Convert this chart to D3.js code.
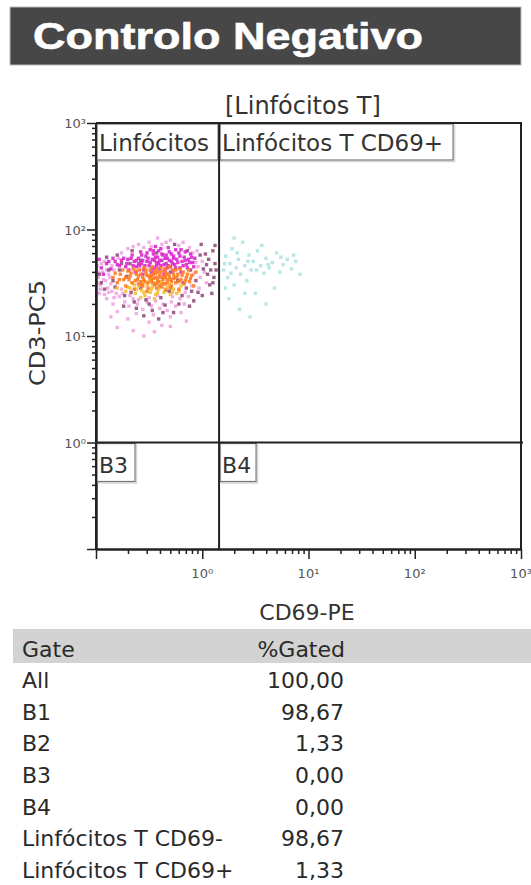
<!DOCTYPE html>
<html>
<head>
<meta charset="utf-8">
<script src="https://cdn.jsdelivr.net/npm/d3@7"></script>
<style>
  html, body { margin: 0; padding: 0; background: #fff; }
  svg { display: block; }
</style>
</head>
<body>
<svg id="chart" width="531" height="885"></svg>
<script>
// ---------- DATA ----------
const titleText = "Controlo Negativo";
const xLabel = "CD69-PE";
const yLabel = "CD3-PC5";
const parentGate = "[Linfócitos T]";
const axisDomain = [0.1, 1000];
const decadeTicks = [0.1, 1, 10, 100, 1000];
const decadeLabels = ["", "10⁰", "10¹", "10²", "10³"];
const gateX = 1.44;   // CD69 threshold
const gateY = 1;      // CD3 threshold
const regionLabels = ["Linfócitos", "Linfócitos T CD69+", "B3", "B4"];

const tableHeader = ["Gate", "%Gated"];
const gateNames = ["All", "B1", "B2", "B3", "B4", "Linfócitos T CD69-", "Linfócitos T CD69+"];
const gatePct = [100.00, 98.67, 1.33, 0.00, 0.00, 98.67, 1.33];

// events, log10 (CD69, CD3)
const pinkEvents = [[-0.98,1.55],[-0.96,1.48],[-0.94,1.60],[-0.91,1.52],[-0.89,1.45],[-0.88,1.58],[-0.86,1.49],[-0.85,1.42],[-0.83,1.62],[-0.81,1.40],[-0.79,1.73],[-0.76,1.44],[-0.97,1.40],[-0.92,1.70],[-0.99,1.66],
 [-0.9,1.35],[-0.84,1.30],[-0.78,1.37],[-0.73,1.32],[-0.69,1.28],[-0.65,1.35],[-0.61,1.30],[-0.56,1.25],[-0.52,1.32],[-0.48,1.28],[-0.44,1.33],[-0.4,1.26],[-0.37,1.30],[-0.33,1.24],[-0.29,1.32],[-0.25,1.28],[-0.21,1.35],[-0.17,1.30],[-0.13,1.37],[-0.62,1.21],[-0.46,1.20],[-0.3,1.18],[-0.7,1.16],[-0.5,1.13],[-0.38,1.10],[-0.2,1.22],[-0.8,1.23],[-0.86,1.18],
 [-0.7,1.82],[-0.6,1.86],[-0.5,1.88],[-0.38,1.86],[-0.3,1.90],[-0.22,1.85],[-0.12,1.83],[-0.05,1.80],[-0.42,1.92],[-0.55,1.83],[-0.18,1.88],
 [-0.04,1.65],[-0.02,1.55],[0.0,1.70],[0.02,1.60],[-0.03,1.45],[0.04,1.50],
 [-0.8,1.08],[-0.65,1.05],[-0.45,1.04],[-0.3,1.09],[-0.15,1.14],[-0.55,1.0],
 [-0.98,1.60],[-0.95,1.68],[-0.93,1.53],[-0.9,1.62],[-0.87,1.55],[-0.85,1.66],[-0.99,1.50],[-0.96,1.44],[-0.92,1.39],[-0.88,1.41],[-0.83,1.36],[-0.75,1.40],[-0.68,1.38],[-0.6,1.34],[-0.5,1.36],[-0.42,1.38],[-0.28,1.37],[-0.16,1.41],[-0.1,1.47],[-0.08,1.58],[-0.06,1.69],[-0.09,1.78],[-0.65,1.84],[-0.48,1.84],[-0.34,1.88],[-0.76,1.78]];
const purpleEvents = [[0.06,1.72],[0.08,1.62],[0.1,1.80],[0.11,1.55],[0.12,1.68],[0.07,1.48],[0.03,1.77],[-0.01,1.86],[0.09,1.40],[0.05,1.58],[0.12,1.85],[0.01,1.63],
 [-0.95,1.50],[-0.88,1.62],[-0.82,1.46],[-0.76,1.68],[-0.71,1.56],[-0.67,1.41],[-0.62,1.26],[-0.58,1.71],[-0.53,1.34],[-0.47,1.24],[-0.43,1.78],[-0.39,1.36],[-0.35,1.29],[-0.31,1.42],[-0.27,1.22],[-0.23,1.52],[-0.19,1.38],[-0.15,1.45],[-0.11,1.62],[-0.08,1.33],[-0.14,1.80],[-0.26,1.86],[-0.66,1.80],[-0.8,1.76],[-0.92,1.44],[-0.74,1.28],[-0.55,1.19],[-0.41,1.16],[-0.06,1.52],[-0.02,1.76],[-0.10,1.42],[0.0,1.38],
 [-0.97,1.58],[-0.9,1.74],[-0.84,1.52],[-0.78,1.62],[-0.73,1.38],[-0.64,1.32],[-0.5,1.30],[-0.37,1.22],[-0.22,1.30],[-0.12,1.28],[-0.04,1.41],[0.04,1.67],[0.1,1.50],[0.13,1.62],[-0.18,1.50],[-0.3,1.60],[-0.58,1.45],[-0.68,1.68]];
const cyanEvents = [[0.2,1.62],[0.22,1.75],[0.24,1.55],[0.26,1.68],[0.28,1.82],[0.3,1.48],[0.32,1.64],[0.34,1.72],[0.36,1.58],[0.38,1.88],[0.4,1.66],[0.42,1.52],[0.44,1.76],[0.46,1.62],[0.48,1.70],[0.5,1.40],[0.52,1.80],[0.55,1.66],[0.58,1.59],[0.6,1.73],[0.63,1.64],[0.66,1.69],[0.7,1.78],[0.73,1.60],[0.76,1.67],[0.8,1.72],[0.84,1.63],[0.88,1.70],[0.92,1.58],[0.25,1.35],[0.35,1.25],[0.45,1.18],[0.6,1.30],[0.3,1.92],[0.56,1.85],[0.68,1.45],[0.22,1.45],[0.4,1.40],
 [0.27,1.59],[0.33,1.78],[0.43,1.70],[0.51,1.62],[0.62,1.67],[0.74,1.74],[0.86,1.76],[0.21,1.68]];
const magentaEvents = [[-0.82,1.70],[-0.78,1.66],[-0.74,1.73],[-0.71,1.68],[-0.69,1.62],[-0.66,1.76],[-0.64,1.70],[-0.62,1.65],[-0.6,1.73],[-0.58,1.79],[-0.57,1.68],[-0.55,1.62],[-0.53,1.75],[-0.52,1.70],[-0.5,1.66],[-0.49,1.81],[-0.47,1.72],[-0.46,1.77],[-0.45,1.64],[-0.43,1.69],[-0.42,1.74],[-0.41,1.80],[-0.39,1.66],[-0.38,1.71],[-0.37,1.76],[-0.35,1.62],[-0.34,1.68],[-0.33,1.73],[-0.31,1.79],[-0.3,1.65],[-0.29,1.70],[-0.27,1.75],[-0.26,1.67],[-0.24,1.72],[-0.22,1.78],[-0.21,1.64],[-0.19,1.70],[-0.17,1.74],[-0.15,1.67],[-0.13,1.72],[-0.11,1.77],[-0.09,1.69],[-0.07,1.73],[-0.48,1.60],[-0.36,1.58],[-0.28,1.61],[-0.44,1.84],[-0.32,1.83],[-0.56,1.58],[-0.63,1.60],[-0.20,1.60],[-0.40,1.63],[-0.52,1.78],[-0.25,1.81],[-0.6,1.68],[-0.45,1.71],[-0.34,1.76],[-0.16,1.79],[-0.7,1.72],[-0.86,1.63],[-0.9,1.68],[-0.95,1.64],[-0.93,1.58],[-0.97,1.72],
 [-0.59,1.66],[-0.56,1.71],[-0.54,1.66],[-0.51,1.73],[-0.49,1.69],[-0.47,1.63],[-0.44,1.74],[-0.43,1.66],[-0.40,1.71],[-0.38,1.77],[-0.36,1.67],[-0.35,1.73],[-0.32,1.66],[-0.31,1.71],[-0.28,1.68],[-0.27,1.73],[-0.25,1.64],[-0.23,1.69],[-0.21,1.75],[-0.18,1.66],[-0.16,1.71],[-0.14,1.64],[-0.12,1.69],[-0.1,1.74],[-0.08,1.65],[-0.62,1.71],[-0.65,1.66],[-0.67,1.73],[-0.72,1.65],[-0.76,1.71],[-0.8,1.67],[-0.84,1.73],[-0.88,1.70],[-0.46,1.80],[-0.39,1.82],[-0.29,1.77],[-0.57,1.76],[-0.2,1.81],[-0.33,1.64],[-0.41,1.68]];
const yellowEvents = [[-0.72,1.42],[-0.68,1.45],[-0.63,1.40],[-0.6,1.47],[-0.57,1.43],[-0.54,1.38],[-0.52,1.48],[-0.49,1.41],[-0.47,1.46],[-0.44,1.39],[-0.41,1.44],[-0.39,1.49],[-0.36,1.41],[-0.33,1.46],[-0.3,1.39],[-0.27,1.44],[-0.24,1.40],[-0.66,1.50],[-0.5,1.52],[-0.38,1.51],[-0.45,1.35],[-0.58,1.36],[-0.2,1.47],[-0.8,1.45],[-0.35,1.55],
 [-0.7,1.46],[-0.62,1.44],[-0.55,1.41],[-0.48,1.44],[-0.42,1.41],[-0.35,1.44],[-0.28,1.41],[-0.22,1.42],[-0.56,1.50],[-0.44,1.50],[-0.31,1.48],[-0.64,1.48]];
const orangeEvents = [[-0.84,1.55],[-0.8,1.50],[-0.77,1.58],[-0.74,1.53],[-0.72,1.47],[-0.7,1.61],[-0.68,1.56],[-0.66,1.50],[-0.64,1.44],[-0.62,1.58],[-0.61,1.53],[-0.59,1.62],[-0.57,1.48],[-0.56,1.55],[-0.54,1.51],[-0.53,1.59],[-0.51,1.45],[-0.5,1.56],[-0.49,1.62],[-0.48,1.52],[-0.46,1.58],[-0.45,1.48],[-0.44,1.55],[-0.42,1.60],[-0.41,1.51],[-0.4,1.57],[-0.38,1.46],[-0.37,1.53],[-0.36,1.61],[-0.35,1.56],[-0.33,1.50],[-0.32,1.58],[-0.3,1.53],[-0.29,1.47],[-0.28,1.62],[-0.26,1.55],[-0.25,1.50],[-0.23,1.58],[-0.22,1.44],[-0.2,1.53],[-0.18,1.60],[-0.17,1.49],[-0.15,1.55],[-0.13,1.62],[-0.12,1.51],[-0.1,1.57],[-0.08,1.47],[-0.06,1.60],[-0.47,1.65],[-0.39,1.64],[-0.55,1.64],[-0.31,1.65],[-0.43,1.45],[-0.52,1.42],[-0.34,1.43],[-0.6,1.56],[-0.48,1.57],[-0.38,1.55],[-0.42,1.52],[-0.27,1.58],[-0.65,1.63],[-0.75,1.62],[-0.21,1.63],[-0.58,1.51],[-0.45,1.61],[-0.35,1.49],
 [-0.69,1.53],[-0.67,1.59],[-0.63,1.52],[-0.6,1.49],[-0.58,1.58],[-0.55,1.53],[-0.52,1.57],[-0.51,1.50],[-0.49,1.55],[-0.47,1.50],[-0.46,1.54],[-0.44,1.59],[-0.43,1.49],[-0.41,1.55],[-0.39,1.60],[-0.37,1.49],[-0.36,1.55],[-0.34,1.59],[-0.33,1.53],[-0.31,1.56],[-0.29,1.51],[-0.27,1.54],[-0.24,1.55],[-0.22,1.51],[-0.19,1.57],[-0.16,1.52],[-0.14,1.58],[-0.11,1.54],[-0.53,1.62],[-0.43,1.63],[-0.35,1.63],[-0.25,1.62],[-0.62,1.61],[-0.72,1.55],[-0.78,1.53],[-0.82,1.59],[-0.56,1.47],[-0.4,1.47],[-0.3,1.45]];

const populations = [
  { name: "pink",    events: pinkEvents,    color: "#eea6e2" },
  { name: "purple",  events: purpleEvents,  color: "#94507e" },
  { name: "cyan",    events: cyanEvents,    color: "#b2e2e4" },
  { name: "magenta", events: magentaEvents, color: "#dc28cc" },
  { name: "yellow",  events: yellowEvents,  color: "#f4c23a" },
  { name: "orange",  events: orangeEvents,  color: "#ff7a22" }
];

// ---------- LAYOUT ----------
const svg = d3.select("#chart");
const plot = { left: 96, right: 521, top: 123, bottom: 549 };
const x = d3.scaleLog().domain(axisDomain).range([plot.left, plot.right]);
const y = d3.scaleLog().domain(axisDomain).range([plot.bottom, plot.top]);
const sans = "'DejaVu Sans', Verdana, sans-serif";

// Title bar
svg.append("rect").attr("x", 10).attr("y", 7).attr("width", 511).attr("height", 58)
  .attr("fill", "#474747").attr("stroke", "#bbb").attr("stroke-width", 1);
svg.append("text").attr("x", 33).attr("y", 49)
  .attr("font-family", "'Liberation Sans', Arial, sans-serif").attr("font-weight", "bold")
  .attr("font-size", 37).attr("fill", "#fff").attr("stroke", "#fff").attr("stroke-width", 0.6)
  .attr("textLength", 390).attr("lengthAdjust", "spacingAndGlyphs")
  .text(titleText);

// Events
const ev = svg.append("g");
populations.forEach(p => {
  ev.append("g").selectAll("rect").data(p.events).enter().append("rect")
    .attr("x", d => x(Math.pow(10, d[0])) - 1.7)
    .attr("y", d => y(Math.pow(10, d[1])) - 1.7)
    .attr("width", 3.4).attr("height", 3.4)
    .attr("fill", p.color).attr("opacity", 0.9);
});

// Axes: minor + major ticks
const minorVals = [];
[0.1, 1, 10, 100].forEach(b => { for (let k = 2; k <= 9; k++) minorVals.push(b * k); });

function styleAxis(g) {
  g.select(".domain").attr("stroke", "#222").attr("stroke-width", 2);
  g.selectAll(".tick line").attr("stroke", "#222").attr("stroke-width", 1.5);
}
svg.append("g").attr("transform", `translate(${plot.left},0)`)
  .call(d3.axisLeft(y).tickValues(minorVals).tickSize(4).tickFormat("").tickSizeOuter(0)).call(styleAxis);
svg.append("g").attr("transform", `translate(${plot.left},0)`)
  .call(d3.axisLeft(y).tickValues(decadeTicks).tickSize(9).tickFormat("").tickSizeOuter(0)).call(styleAxis);
svg.append("g").attr("transform", `translate(0,${plot.bottom})`)
  .call(d3.axisBottom(x).tickValues(minorVals).tickSize(5).tickFormat("").tickSizeOuter(0)).call(styleAxis);
svg.append("g").attr("transform", `translate(0,${plot.bottom})`)
  .call(d3.axisBottom(x).tickValues(decadeTicks).tickSize(10).tickFormat("").tickSizeOuter(0)).call(styleAxis);

// tick labels
decadeTicks.forEach((v, i) => {
  if (!decadeLabels[i]) return;
  svg.append("text").attr("x", plot.left - 10).attr("y", y(v) + 5)
    .attr("text-anchor", "end").attr("font-family", sans).attr("font-size", 13).attr("fill", "#555")
    .text(decadeLabels[i]);
  svg.append("text").attr("x", x(v)).attr("y", 578)
    .attr("text-anchor", "middle").attr("font-family", sans).attr("font-size", 13).attr("fill", "#555")
    .text(decadeLabels[i]);
});

// frame: top and right
svg.append("line").attr("x1", plot.right).attr("x2", plot.right).attr("y1", plot.top).attr("y2", plot.bottom)
  .attr("stroke", "#222").attr("stroke-width", 2);

// region label boxes
function labelBox(x0, y0, w, h, txt, fs, tx, ty) {
  svg.append("rect").attr("x", x0 + 1.5).attr("y", y0 + 1.5).attr("width", w).attr("height", h)
    .attr("fill", "none").attr("stroke", "#d6d6d6").attr("stroke-width", 1.5);
  svg.append("rect").attr("x", x0).attr("y", y0).attr("width", w).attr("height", h)
    .attr("fill", "#fff").attr("fill-opacity", 0.85).attr("stroke", "#777").attr("stroke-width", 1.2);
  svg.append("text").attr("x", tx).attr("y", ty).attr("font-family", sans).attr("font-size", fs)
    .attr("fill", "#333").text(txt);
}
const gx = x(gateX), gy = y(gateY);
labelBox(plot.left + 1, plot.top + 1, gx - plot.left - 2, 36, regionLabels[0], 23, plot.left + 3, 151);
labelBox(gx + 1, plot.top + 1, 233, 36, regionLabels[1], 23, gx + 3, 151);
labelBox(plot.left + 1, gy + 1, 38, 38, regionLabels[2], 22, plot.left + 3, 473);
labelBox(gx + 1, gy + 1, 36, 38, regionLabels[3], 22, gx + 3, 473);

// gate + frame lines over boxes
[[plot.left, plot.top, plot.left, plot.bottom], [gx, plot.top, gx, plot.bottom],
 [plot.left, plot.top, plot.right + 1, plot.top], [plot.left, gy, plot.right + 2, gy]].forEach(l => {
  svg.append("line").attr("x1", l[0]).attr("y1", l[1]).attr("x2", l[2]).attr("y2", l[3])
    .attr("stroke", "#222").attr("stroke-width", 2);
});

// parent gate label
svg.append("text").attr("x", 225).attr("y", 114).attr("font-family", sans).attr("font-size", 24)
  .attr("fill", "#333").text(parentGate);

// axis titles
svg.append("text").attr("x", 307).attr("y", 620).attr("text-anchor", "middle")
  .attr("font-family", sans).attr("font-size", 22).attr("fill", "#333").text(xLabel);
svg.append("text").attr("transform", "translate(45,333) rotate(-90)").attr("text-anchor", "middle")
  .attr("font-family", sans).attr("font-size", 21).attr("fill", "#333")
  .attr("textLength", 106).attr("lengthAdjust", "spacingAndGlyphs").text(yLabel);

// ---------- TABLE ----------
const locale = d3.formatLocale({ decimal: ",", thousands: ".", grouping: [3], currency: ["", "€"] });
const fmt = locale.format(".2f");
svg.append("rect").attr("x", 13).attr("y", 629).attr("width", 518).attr("height", 34).attr("fill", "#d3d3d3");
svg.append("text").attr("x", 22).attr("y", 657).attr("font-family", sans).attr("font-size", 22)
  .attr("fill", "#2a2a2a").text(tableHeader[0]);
svg.append("text").attr("x", 345).attr("y", 657).attr("text-anchor", "end").attr("font-family", sans)
  .attr("font-size", 22).attr("fill", "#2a2a2a").text(tableHeader[1]);
const rowY = d3.scalePoint().domain(gateNames).range([688, 878]);
const rows = svg.append("g").selectAll("g").data(gateNames).enter().append("g");
rows.append("text").attr("x", 22).attr("y", d => rowY(d)).attr("font-family", sans).attr("font-size", 22)
  .attr("fill", "#2a2a2a").text(d => d);
rows.append("text").attr("x", 344).attr("y", d => rowY(d)).attr("text-anchor", "end")
  .attr("font-family", sans).attr("font-size", 22).attr("fill", "#2a2a2a")
  .text((d, i) => fmt(gatePct[i]));
</script>
</body>
</html>
